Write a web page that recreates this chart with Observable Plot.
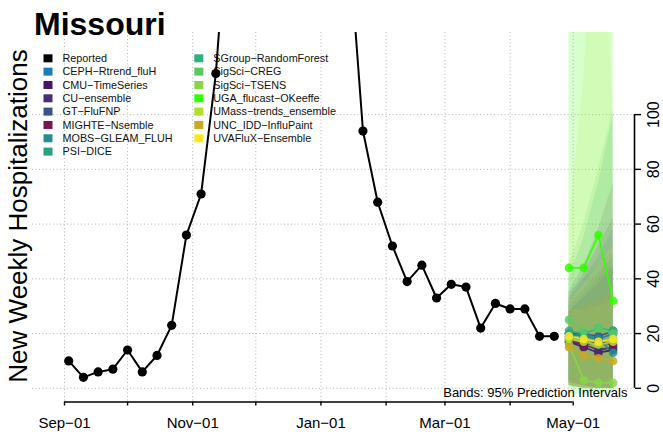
<!DOCTYPE html>
<html><head><meta charset="utf-8">
<script src="https://cdn.jsdelivr.net/npm/d3@7"></script>
<script src="https://cdn.jsdelivr.net/npm/@observablehq/plot@0.6"></script>
<style>
html,body{margin:0;padding:0;background:#fff;}
#chart{width:663px;height:435px;overflow:hidden;}
</style></head><body><div id="chart"></div>
<script>
// ---------- data ----------
const reportedDates = ["2022-09-03","2022-09-10","2022-09-17","2022-09-24","2022-10-01","2022-10-08","2022-10-15","2022-10-22","2022-10-29","2022-11-05","2022-11-12","2022-11-19","2022-11-26","2022-12-03","2022-12-10","2022-12-17","2022-12-24","2022-12-31","2023-01-07","2023-01-14","2023-01-21","2023-01-28","2023-02-04","2023-02-11","2023-02-18","2023-02-25","2023-03-04","2023-03-11","2023-03-18","2023-03-25","2023-04-01","2023-04-08","2023-04-15","2023-04-22"];
const reportedValues = [10,4,6,7,14,6,12,23,56,71,115,187,280,360,330,290,250,230,195,166,94,68,52,39,45,33,38,37,22,31,29,29,19,19];

const forecastDates = ["2023-04-29","2023-05-06","2023-05-13","2023-05-20"];
const models = ["CEPH-Rtrend_fluH","CMU-TimeSeries","CU-ensemble","GT-FluFNP","MIGHTE-Nsemble","MOBS-GLEAM_FLUH","PSI-DICE","SGroup-RandomForest","SigSci-CREG","SigSci-TSENS","UGA_flucast-OKeeffe","UMass-trends_ensemble","UNC_IDD-InfluPaint","UVAFluX-Ensemble"];
const modelColors = ["#1B7DB8","#4A1263","#472D7B","#3B528B","#7B1455","#21908C","#27A17F","#2DB27D","#5EC962","#87D549","#33FF00","#B4DE2C","#C9A826","#FDE725"];
const forecastMedians = [
  [20,19,18,20],[17,15,13,14],[18,16,14,15],[20,20,19,21],[17,16,17,16],[19,20,18,13],[19,18,17,18],
  [21,20,22,21],[25,21,22,20],[16,3,2,2],[44,44,56,32],[18,17,16,17],[15,12,11,10],[19,18,17,18]
];
const forecastLower = [
  [2,1,0,0],[1,0,0,0],[2,1,0,0],[3,1,0,0],[1,0,0,0],[2,1,0,0],[1,0,0,0],
  [3,2,1,0],[4,2,1,0],[0,0,0,0],[-2,-2,-2,-2],[1,0,0,0],[1,0,0,0],[2,1,0,0]
];
const forecastUpper = [
  [32,40,48,58],[28,33,38,44],[35,45,58,75],[30,36,42,48],[33,42,52,62],[28,34,40,45],[40,55,75,100],
  [35,40,45,50],[45,60,80,102],[30,28,30,32],[165,200,240,210],[60,112,220,100],[28,30,32,35],[32,38,45,52]
];

const monthTicks = ["2022-09-01","2022-10-01","2022-11-01","2022-12-01","2023-01-01","2023-02-01","2023-03-01","2023-04-01","2023-05-01"];
const labeledTicks = ["2022-09-01","2022-11-01","2023-01-01","2023-03-01","2023-05-01"];
const yTicks = [0,20,40,60,80,100];
const titleText = "Missouri";
const yLabelText = "New Weekly Hospitalizations";
const bandsNote = "Bands: 95% Prediction Intervals";
const reportedLabel = "Reported";

// ---------- build ----------
const parse = d3.utcParse("%Y-%m-%d");
const reported = reportedDates.map((d, i) => ({date: parse(d), value: reportedValues[i]}));
const WIDE = "UGA_flucast-OKeeffe";
const forecast = [];
models.forEach((m, k) => forecastDates.forEach((d, h) => forecast.push({
  model: m, date: parse(d), median: forecastMedians[k][h], lower: forecastLower[k][h], upper: forecastUpper[k][h],
  alpha: m === WIDE ? 0.2 : 0.135
})));
// the widest band is laid down first, the others over it
const bandData = forecast.filter(d => d.model === WIDE).concat(forecast.filter(d => d.model !== WIDE));
const mTicks = monthTicks.map(parse);
const lTicks = labeledTicks.map(parse);
const xDomain = [new Date(Date.UTC(2022, 7, 16, 18, 40)), new Date(Date.UTC(2023, 4, 30, 4, 0))];
const yDomain = [-5, 130];
const fmtMonth = d3.utcFormat("%b");
const fmtDay = d3.utcFormat("%d");
const dash = s => s.replace(/-/g, "\u2212");
const FONT = "'Liberation Sans', Arial, Helvetica, sans-serif";

const gridStyle = {stroke: "#b8b8b8", strokeOpacity: 1, strokeWidth: 1, strokeDasharray: "1,2.5"};

const svg = Plot.plot({
  width: 663, height: 435,
  marginTop: 32, marginBottom: 33.5, marginLeft: 32, marginRight: 29,
  style: {fontFamily: FONT, background: "#fff", color: "#000"},
  x: {type: "utc", domain: xDomain, axis: null},
  y: {domain: yDomain, axis: null},
  color: {type: "ordinal", domain: models, range: modelColors},
  marks: [
    Plot.gridX(mTicks, gridStyle),
    Plot.gridY(yTicks, gridStyle),
    Plot.areaY(bandData, {x: "date", y1: "lower", y2: "upper", z: "model", fill: "model", fillOpacity: "alpha", clip: true}),
    Plot.line(reported, {x: "date", y: "value", stroke: "#000", strokeWidth: 2, clip: true}),
    Plot.dot(reported, {x: "date", y: "value", fill: "#000", r: 4.6, clip: true}),
    Plot.line(forecast, {x: "date", y: "median", z: "model", stroke: "model", strokeWidth: 1.8, strokeOpacity: 0.9}),
    Plot.dot(forecast, {x: "date", y: "median", fill: "model", r: 4.3, fillOpacity: 0.85}),
    Plot.text([bandsNote], {frameAnchor: "bottom-right", dx: -7, dy: -9.5, textAnchor: "end", lineAnchor: "middle", fontSize: 13, fill: "#000"}),
    // x axis
    Plot.ruleY([yDomain[0]], {x1: mTicks[0], x2: mTicks[mTicks.length - 1], stroke: "#000", strokeWidth: 1.6}),
    Plot.axisX({ticks: mTicks, tickSize: 4, tickFormat: () => "", strokeWidth: 1.4, color: "#000"}),
    Plot.axisX({ticks: lTicks, tickSize: 0, tickPadding: 15, fontSize: 15, tickFormat: d => fmtMonth(d) + "\u2212" + fmtDay(d), color: "#000"}),
    // y axis (right)
    Plot.ruleX([xDomain[1]], {y1: yTicks[0], y2: yTicks[yTicks.length - 1], stroke: "#000", strokeWidth: 1.6}),
    Plot.axisY({anchor: "right", ticks: yTicks, tickSize: 6, tickFormat: () => "", strokeWidth: 1.4, color: "#000"}),
    Plot.text(yTicks, {y: d => d, frameAnchor: "right", dx: 19, rotate: -90, textAnchor: "middle", lineAnchor: "middle", fontSize: 16, fill: "#000"})
  ]
});

const NS = "http://www.w3.org/2000/svg";
const lineG = svg.querySelector('[aria-label="line"]');

// ---------- title, y label, legend ----------
const s = d3.select(svg);
s.append("text").attr("x", 34).attr("y", 35).attr("text-anchor", "start").attr("font-family", FONT).attr("font-weight", "bold")
  .attr("font-size", 32).attr("fill", "#000").text(titleText);
s.append("text").attr("transform", "translate(27,216) rotate(-90)").attr("text-anchor", "middle")
  .attr("font-family", FONT).attr("font-size", 26).attr("fill", "#000").text(yLabelText);

const legendItems = [{name: reportedLabel, color: "#000"}].concat(models.map((m, i) => ({name: dash(m), color: modelColors[i]})));
const lg = document.createElementNS(NS, "g");
if (lineG) svg.insertBefore(lg, lineG); else svg.appendChild(lg);
const L = d3.select(lg);
legendItems.forEach((it, i) => {
  const col = i < 8 ? 0 : 1;
  const row = i < 8 ? i : i - 8;
  const sx = col === 0 ? 43.5 : 194.3;
  const cy = 58.3 + row * 13.33;
  L.append("rect").attr("x", sx).attr("y", cy - 4).attr("width", 9).attr("height", 8).attr("fill", it.color);
  L.append("text").attr("x", sx + 19).attr("y", cy).attr("dy", "0.35em").attr("text-anchor", "start").attr("font-family", FONT)
    .attr("font-size", 10.8).attr("fill", "#111").text(it.name);
});

document.getElementById("chart").appendChild(svg);
</script></body></html>
